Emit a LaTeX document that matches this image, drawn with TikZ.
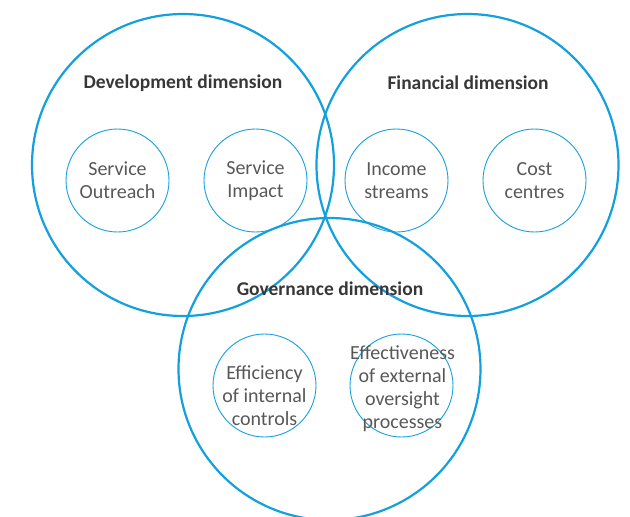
\documentclass[tikz,border=0pt]{standalone}
\usepackage{fontspec}
\setmainfont{Carlito}
\usetikzlibrary{positioning}
\definecolor{venn_blue}{RGB}{20, 160, 222}
\definecolor{title_gray}{RGB}{55, 55, 55}
\definecolor{text_gray}{RGB}{88, 88, 88}

\begin{document}
\begin{tikzpicture}[
    x=1pt, y=-1pt,
    dimension/.style={
        circle,
        draw=#1,
        line width=2.2pt,
        minimum size=302pt,
        inner sep=0pt
    },
    aspect/.style={
        circle,
        draw=#1,
        line width=0.9pt,
        minimum size=103pt,
        inner sep=0pt,
        text=text_gray,
        font=\fontsize{20}{23}\selectfont,
        align=center
    },
    aspect_text/.style={
        text=text_gray,
        inner sep=0pt,
        font=\fontsize{20}{23}\selectfont,
        align=center
    },
    heading/.style={
        text=title_gray,
        inner sep=0pt,
        font=\fontsize{19.5}{22}\selectfont\bfseries
    },
]
\useasboundingbox (0,0) rectangle (630,517);

% the three dimensions
\node[dimension=venn_blue] (development) at (183,165) {};
\node[dimension=venn_blue] (financial) at (467.5,165) {};
\node[dimension=venn_blue] (governance) at (329.5,369) {};

\node[heading] (dev_title) at (183,83) {Development dimension};
\node[heading] (fin_title) at (468,83) {Financial dimension};
\node[heading] (gov_title) at (330,289) {Governance dimension};

% aspects of each dimension
\node[aspect=venn_blue] (outreach) at (117.5,180.5) {Service\\Outreach};
\node[aspect=venn_blue] (impact) at (255.5,180.5) {Service\\Impact};

\node[aspect=venn_blue] (income) at (396.5,180.5) {Income\\streams};
\node[aspect=venn_blue] (cost) at (534.5,180.5) {Cost\\centres};

\node[aspect=venn_blue] (efficiency) at (264.5,385.5) {};
\node[aspect=venn_blue] (oversight) at (401.5,385.5) {};

\node[aspect_text] (efficiency_text) at ([yshift=-10pt]efficiency.center) {Efficiency\\of internal\\controls};
\node[aspect_text] (oversight_text) at ([xshift=1pt,yshift=-3pt]oversight.center) {Effectiveness\\of external\\oversight\\processes};

\end{tikzpicture}
\end{document}
